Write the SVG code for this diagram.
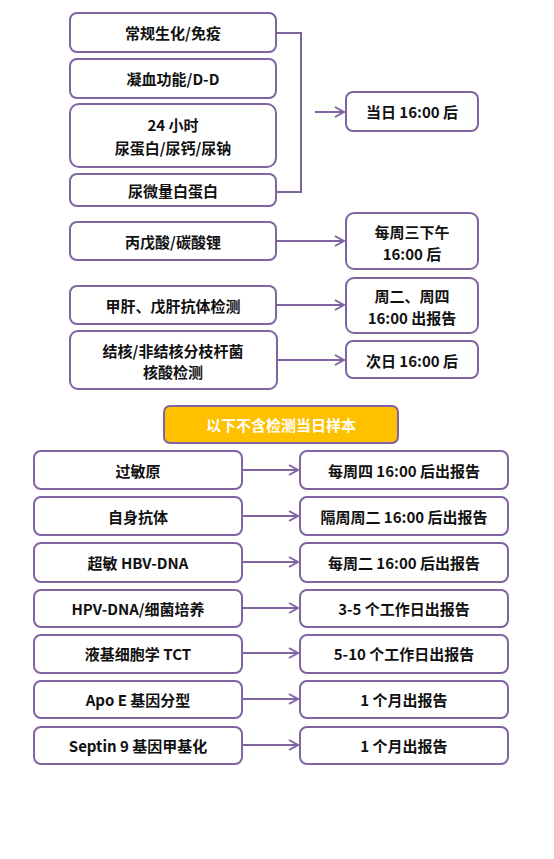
<svg xmlns="http://www.w3.org/2000/svg" width="554" height="859" viewBox="0 0 554 859">
<style>
.b{fill:#fff;stroke:#8064A2;stroke-width:2}
.o{fill:#FFC000;stroke:#8064A2;stroke-width:2}
.t{font-family:"Noto Sans CJK SC","Noto Sans",sans-serif;font-size:15px;font-weight:bold;fill:#111;text-anchor:middle;dominant-baseline:central}
.w{fill:#fff}
.c{fill:none;stroke:#8064A2;stroke-width:2}
</style>
<defs>
<marker id="ah" markerWidth="12" markerHeight="12" refX="10" refY="6" orient="auto" markerUnits="userSpaceOnUse">
<path d="M1,1 L10,6 L1,11" fill="none" stroke="#8064A2" stroke-width="2"/>
</marker>
</defs>
<rect width="554" height="859" fill="#fff"/>
<g id="connectors">
<path class="c" d="M276,33 H301 V192 H276"/>
<line class="c" x1="315" y1="112" x2="344" y2="112" marker-end="url(#ah)"/>
<line class="c" x1="276" y1="241" x2="344" y2="241" marker-end="url(#ah)"/>
<line class="c" x1="276" y1="305" x2="344" y2="305" marker-end="url(#ah)"/>
<line class="c" x1="277" y1="360" x2="344" y2="360" marker-end="url(#ah)"/>
<line class="c" x1="242" y1="470" x2="298" y2="470" marker-end="url(#ah)"/>
<line class="c" x1="242" y1="516" x2="298" y2="516" marker-end="url(#ah)"/>
<line class="c" x1="242" y1="562" x2="298" y2="562" marker-end="url(#ah)"/>
<line class="c" x1="242" y1="608" x2="298" y2="608" marker-end="url(#ah)"/>
<line class="c" x1="242" y1="653" x2="298" y2="653" marker-end="url(#ah)"/>
<line class="c" x1="242" y1="699" x2="298" y2="699" marker-end="url(#ah)"/>
<line class="c" x1="242" y1="745" x2="298" y2="745" marker-end="url(#ah)"/>
</g>
<g id="n1"><rect class="b" x="70" y="13" width="206" height="39" rx="7"/><text class="t" x="173" y="32">常规生化/免疫</text></g>
<g id="n2"><rect class="b" x="70" y="59" width="206" height="39" rx="7"/><text class="t" x="173" y="78">凝血功能/D-D</text></g>
<g id="n3"><rect class="b" x="70" y="104" width="206" height="63" rx="9"/><text class="t" x="173" y="124">24 小时</text><text class="t" x="173" y="147">尿蛋白/尿钙/尿钠</text></g>
<g id="n4"><rect class="b" x="70" y="174" width="206" height="32" rx="7"/><text class="t" x="173" y="190">尿微量白蛋白</text></g>
<g id="r1"><rect class="b" x="346" y="92" width="132" height="39" rx="7"/><text class="t" x="412" y="111">当日 16:00 后</text></g>
<g id="n5"><rect class="b" x="70" y="222" width="206" height="38" rx="7"/><text class="t" x="173" y="241">丙戊酸/碳酸锂</text></g>
<g id="r2"><rect class="b" x="346" y="213" width="132" height="56" rx="8"/><text class="t" x="412" y="231">每周三下午</text><text class="t" x="412" y="253">16:00 后</text></g>
<g id="n6"><rect class="b" x="70" y="286" width="206" height="38" rx="7"/><text class="t" x="173" y="305">甲肝、戊肝抗体检测</text></g>
<g id="r3"><rect class="b" x="346" y="278" width="132" height="55" rx="8"/><text class="t" x="412" y="295">周二、周四</text><text class="t" x="412" y="317">16:00 出报告</text></g>
<g id="n7"><rect class="b" x="70" y="331" width="207" height="58" rx="8"/><text class="t" x="173" y="350">结核/非结核分枝杆菌</text><text class="t" x="173" y="371">核酸检测</text></g>
<g id="r4"><rect class="b" x="346" y="341" width="132" height="37" rx="7"/><text class="t" x="412" y="360">次日 16:00 后</text></g>
<g id="banner"><rect class="o" x="164" y="406" width="234" height="37" rx="6"/><text class="t w" x="281" y="424">以下不含检测当日样本</text></g>
<g id="n8"><rect class="b" x="34" y="451" width="208" height="38" rx="7"/><text class="t" x="138" y="470">过敏原</text></g>
<g id="r8"><rect class="b" x="300" y="451" width="208" height="38" rx="7"/><text class="t" x="404" y="470">每周四 16:00 后出报告</text></g>
<g id="n9"><rect class="b" x="34" y="497" width="208" height="38" rx="7"/><text class="t" x="138" y="516">自身抗体</text></g>
<g id="r9"><rect class="b" x="300" y="497" width="208" height="38" rx="7"/><text class="t" x="404" y="516">隔周周二 16:00 后出报告</text></g>
<g id="n10"><rect class="b" x="34" y="543" width="208" height="39" rx="7"/><text class="t" x="138" y="562">超敏 HBV-DNA</text></g>
<g id="r10"><rect class="b" x="300" y="543" width="208" height="39" rx="7"/><text class="t" x="404" y="562">每周二 16:00 后出报告</text></g>
<g id="n11"><rect class="b" x="34" y="590" width="208" height="37" rx="7"/><text class="t" x="138" y="608">HPV-DNA/细菌培养</text></g>
<g id="r11"><rect class="b" x="300" y="590" width="208" height="37" rx="7"/><text class="t" x="404" y="608">3-5 个工作日出报告</text></g>
<g id="n12"><rect class="b" x="34" y="635" width="208" height="38" rx="7"/><text class="t" x="138" y="653">液基细胞学 TCT</text></g>
<g id="r12"><rect class="b" x="300" y="635" width="208" height="38" rx="7"/><text class="t" x="404" y="653">5-10 个工作日出报告</text></g>
<g id="n13"><rect class="b" x="34" y="681" width="208" height="37" rx="7"/><text class="t" x="138" y="699">Apo E 基因分型</text></g>
<g id="r13"><rect class="b" x="300" y="681" width="208" height="37" rx="7"/><text class="t" x="404" y="699">1 个月出报告</text></g>
<g id="n14"><rect class="b" x="34" y="727" width="208" height="37" rx="7"/><text class="t" x="138" y="745">Septin 9 基因甲基化</text></g>
<g id="r14"><rect class="b" x="300" y="727" width="208" height="37" rx="7"/><text class="t" x="404" y="745">1 个月出报告</text></g>
</svg>
